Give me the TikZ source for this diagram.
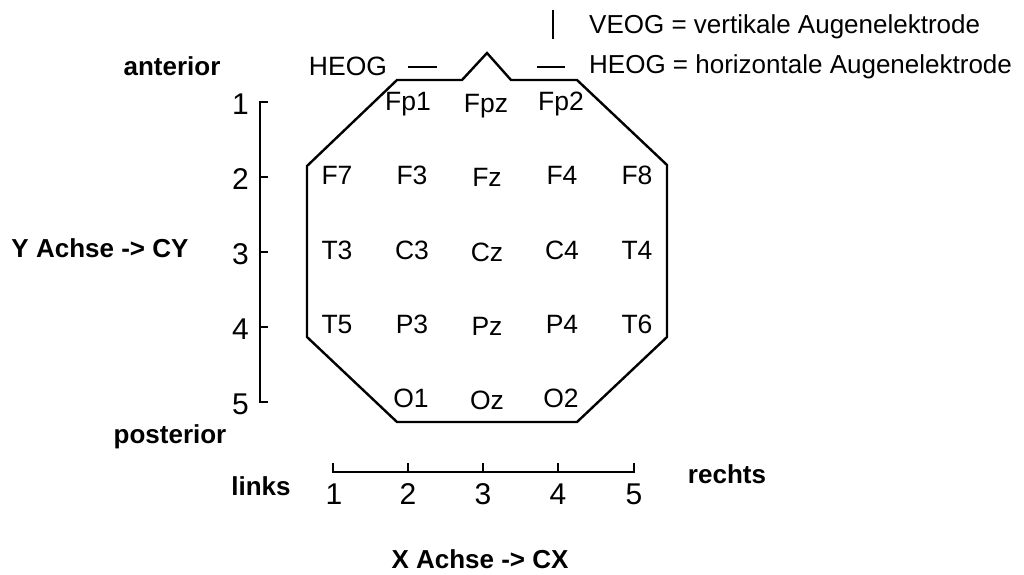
\documentclass[tikz,border=0pt]{standalone}
\usepackage{fontspec}
\setmainfont{Liberation Sans}
\begin{document}
\begin{tikzpicture}[x=1pt,y=-1pt,line width=2.4pt,
  lab/.style={font=\fontsize{26.5}{30}\selectfont,inner sep=0pt,anchor=base},
  leg/.style={font=\fontsize{26}{30}\selectfont,inner sep=0pt,anchor=base west},
  num/.style={font=\fontsize{30}{34}\selectfont,inner sep=0pt},
  bld/.style={font=\fontsize{26}{30}\selectfont\bfseries,inner sep=0pt,anchor=base}]
\useasboundingbox (0,0) rectangle (1024,574);
% head outline with nose
\draw[line join=miter] (397,80) coordinate (h1) -- (462,80) -- (487,53) coordinate (nose) -- (511,80) -- (577,80)
  -- (667,165) -- (667,337) -- (577,422) -- (397,422) -- (307,337) -- (307,166) -- cycle;
% electrodes
\node[lab] (Fp1) at (408,110) {Fp1};
\node[lab] (Fpz) at (486,112) {Fpz};
\node[lab] (Fp2) at (561,110) {Fp2};
\node[lab] (F7) at (337,184) {F7};
\node[lab] (F3) at (412,184) {F3};
\node[lab] (Fz) at (487,186) {Fz};
\node[lab] (F4) at (562,184) {F4};
\node[lab] (F8) at (637,184) {F8};
\node[lab] (T3) at (337,259) {T3};
\node[lab] (C3) at (412,259) {C3};
\node[lab] (Cz) at (487,261) {Cz};
\node[lab] (C4) at (562,259) {C4};
\node[lab] (T4) at (637,259) {T4};
\node[lab] (T5) at (337,333) {T5};
\node[lab] (P3) at (412,333) {P3};
\node[lab] (Pz) at (487,335) {Pz};
\node[lab] (P4) at (562,333) {P4};
\node[lab] (T6) at (637,333) {T6};
\node[lab] (O1) at (411,407) {O1};
\node[lab] (Oz) at (487,409) {Oz};
\node[lab] (O2) at (561,407) {O2};
% EOG
\node[lab] (heog) at (348,75) {HEOG};
\draw (408,67) coordinate (hl1) -- (437,67) coordinate (hl2);
\draw (537,67) coordinate (hr1) -- (565,67) coordinate (hr2);
\draw (553,10) coordinate (v1) -- (553,39) coordinate (v2);
\node[leg] (veogtxt) at (588,33) {VEOG = vertikale Augenelektrode};
\node[leg] (heogtxt) at (588,73) {HEOG = horizontale Augenelektrode};
% Y axis
\draw (268,102) -- (260,102) -- (260,402) -- (268,402);
\foreach \y in {177,252,327} \draw (260,\y) -- (268,\y);
\foreach \n/\y in {1/102,2/177,3/252,4/327,5/402}
  \node[num,anchor=east] (y\n) at (250,\y+2) {\n};
% X axis
\draw (333,463) -- (333,472) -- (634,472) -- (634,463);
\foreach \x in {408,483,558} \draw (\x,472) -- (\x,463);
\foreach \n/\x in {1/334,2/408,3/483,4/558,5/634}
  \node[num] (x\n) at (\x,494) {\n};
% bold labels
\node[bld] (ant) at (172,75) {anterior};
\node[bld] (post) at (170,443) {posterior};
\node[bld] (links) at (261,495) {links};
\node[bld] (rechts) at (727,483) {rechts};
\node[bld] (yax) at (100,257) {Y Achse -> CY};
\node[bld] (xax) at (480,568) {X Achse -> CX};
\end{tikzpicture}
\end{document}
